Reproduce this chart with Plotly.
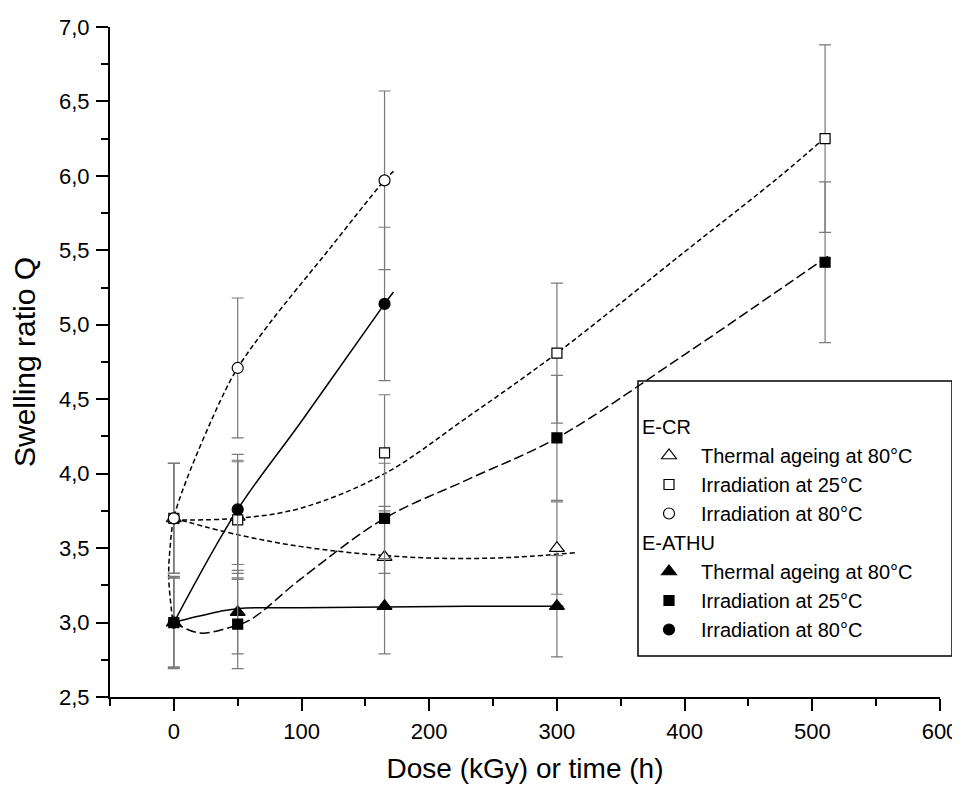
import plotly.graph_objects as go

# ---------------- data ----------------
# E-CR
ecr_thermal_x = [0, 50, 165, 300]
ecr_thermal_y = [3.70, 3.71, 3.44, 3.50]
ecr_thermal_err = [0.37, 0.38, 0.34, 0.31]

ecr_irr25_x = [0, 50, 165, 300, 510]
ecr_irr25_y = [3.70, 3.69, 4.14, 4.81, 6.25]
ecr_irr25_err = [0.37, 0.39, 0.39, 0.47, 0.63]

ecr_irr80_x = [0, 50, 165]
ecr_irr80_y = [3.70, 4.71, 5.97]
ecr_irr80_err = [0.37, 0.47, 0.60]

# E-ATHU
eathu_thermal_x = [0, 50, 165, 300]
eathu_thermal_y = [3.00, 3.07, 3.11, 3.11]
eathu_thermal_err = [0.30, 0.28, 0.32, 0.34]

eathu_irr25_x = [0, 50, 165, 300, 510]
eathu_irr25_y = [3.00, 2.99, 3.70, 4.24, 5.42]
eathu_irr25_err = [0.30, 0.30, 0.37, 0.42, 0.54]

eathu_irr80_x = [0, 50, 165]
eathu_irr80_y = [3.00, 3.76, 5.14]
eathu_irr80_err = [0.31, 0.37, 0.515]

# fitted guide curves
fit_ecr_thermal_x = [0, 50, 100, 165, 220, 270, 315]
fit_ecr_thermal_y = [3.70, 3.59, 3.51, 3.45, 3.43, 3.44, 3.47]

fit_ecr_irr25_x = [0, 50, 100, 165, 230, 300, 400, 475, 513]
fit_ecr_irr25_y = [3.69, 3.70, 3.77, 4.00, 4.38, 4.81, 5.49, 6.00, 6.28]

fit_ecr_irr80_x = [-1, -4, -3, 0, 10, 37, 50, 75, 120, 165, 172]
fit_ecr_irr80_y = [3.02, 3.30, 3.50, 3.70, 3.96, 4.50, 4.71, 5.01, 5.49, 5.97, 6.03]

fit_eathu_thermal_x = [0, 18, 36, 51, 100, 165, 230, 305]
fit_eathu_thermal_y = [3.00, 3.04, 3.075, 3.095, 3.10, 3.105, 3.11, 3.11]

fit_eathu_irr25_x = [0, 20, 41, 60, 99, 165, 230, 300, 400, 475, 514]
fit_eathu_irr25_y = [3.00, 2.93, 2.96, 3.02, 3.29, 3.70, 3.96, 4.24, 4.80, 5.24, 5.47]

fit_eathu_irr80_x = [0, 50, 99, 165, 172]
fit_eathu_irr80_y = [3.00, 3.76, 4.34, 5.14, 5.22]

x_ticks = [0, 100, 200, 300, 400, 500, 600]
y_ticks = [2.5, 3.0, 3.5, 4.0, 4.5, 5.0, 5.5, 6.0, 6.5, 7.0]

FONT = "Liberation Sans, Arial, Helvetica, sans-serif"
ERR_COLOR = "#7a7a7a"

fig = go.Figure()

# ---- guide curves ----
curves = [
    (fit_ecr_thermal_x, fit_ecr_thermal_y, "5px,3px"),
    (fit_ecr_irr25_x, fit_ecr_irr25_y, "5px,3px"),
    (fit_ecr_irr80_x, fit_ecr_irr80_y, "5px,3px"),
    (fit_eathu_thermal_x, fit_eathu_thermal_y, "solid"),
    (fit_eathu_irr25_x, fit_eathu_irr25_y, "10px,4px"),
    (fit_eathu_irr80_x, fit_eathu_irr80_y, "solid"),
]
for cx, cy, dash in curves:
    fig.add_trace(go.Scatter(
        x=cx, y=cy, mode="lines",
        line=dict(color="black", width=1.5, dash=dash, shape="spline", smoothing=1),
        showlegend=False, hoverinfo="skip"))

# ---- measured points ----
series = [
    ("E-CR", "Thermal ageing at 80°C", ecr_thermal_x, ecr_thermal_y, ecr_thermal_err, "triangle-up", "white", 13),
    ("E-CR", "Irradiation at 25°C", ecr_irr25_x, ecr_irr25_y, ecr_irr25_err, "square", "white", 10),
    ("E-CR", "Irradiation at 80°C", ecr_irr80_x, ecr_irr80_y, ecr_irr80_err, "circle", "white", 11),
    ("E-ATHU", "Thermal ageing at 80°C", eathu_thermal_x, eathu_thermal_y, eathu_thermal_err, "triangle-up", "black", 13),
    ("E-ATHU", "Irradiation at 25°C", eathu_irr25_x, eathu_irr25_y, eathu_irr25_err, "square", "black", 10),
    ("E-ATHU", "Irradiation at 80°C", eathu_irr80_x, eathu_irr80_y, eathu_irr80_err, "circle", "black", 11),
]
for grp, name, sx, sy, se, sym, fill, size in series:
    fig.add_trace(go.Scatter(
        x=sx, y=sy, mode="markers", name=name,
        legendgroup=grp,
        legendgrouptitle=dict(text=grp, font=dict(family=FONT, size=20, color="black")),
        marker=dict(symbol=sym, size=size, color=fill, line=dict(color="black", width=1.2)),
        error_y=dict(type="data", array=se, visible=True, color=ERR_COLOR, thickness=1.2, width=6),
    ))

# page body adds an 8px margin; figure is sized so the page fits the window
# without scrollbars. Coordinates below are screen pixels minus 8.
W, H = 952, 776
L, T = 102, 19
R = W - 932
B = H - 689
pw, ph = W - L - R, H - T - B

def px_x(p):
    return (p - L) / pw

def px_y(p):
    return (H - B - p) / ph

fig.update_layout(
    width=W, height=H,
    margin=dict(l=L, r=R, t=T, b=B, autoexpand=False),
    paper_bgcolor="white", plot_bgcolor="white",
    separators=",.",
    font=dict(family=FONT, size=22, color="black"),
    showlegend=True,
    legend=dict(
        x=px_x(629), y=px_y(399), xanchor="left", yanchor="top",
        bgcolor="rgba(0,0,0,0)", borderwidth=0,
        font=dict(family=FONT, size=20, color="black"),
        tracegroupgap=0, traceorder="grouped", itemwidth=54,
    ),
    shapes=[dict(type="rect", xref="paper", yref="paper",
                 x0=px_x(630), x1=px_x(944), y0=px_y(648), y1=px_y(373),
                 line=dict(color="black", width=1.5), fillcolor="white", layer="below")],
    xaxis=dict(
        range=[-50, 600], tickvals=x_ticks, showgrid=False, zeroline=False,
        showline=True, linecolor="black", linewidth=2,
        ticks="outside", ticklen=12, tickwidth=1.5, tickcolor="black",
        minor=dict(ticks="outside", ticklen=7, tickwidth=1.5, tickcolor="black", dtick=50, tick0=0, showgrid=False),
        tickfont=dict(family=FONT, size=22, color="black"),
        ticklabelstandoff=2,
        title=dict(text="Dose (kGy) or time (h)", font=dict(family=FONT, size=28, color="black"), standoff=18),
    ),
    yaxis=dict(
        range=[2.5, 7.0], tickvals=y_ticks, tickformat=".1f", showgrid=False, zeroline=False,
        showline=True, linecolor="black", linewidth=2,
        ticks="outside", ticklen=12, tickwidth=1.5, tickcolor="black",
        minor=dict(ticks="outside", ticklen=7, tickwidth=1.5, tickcolor="black", dtick=0.25, tick0=2.5, showgrid=False),
        tickfont=dict(family=FONT, size=22, color="black"),
        ticklabelstandoff=2,
        title=dict(text="Swelling ratio Q", font=dict(family=FONT, size=30, color="black"), standoff=16),
    ),
)

fig.write_html("out.html")
